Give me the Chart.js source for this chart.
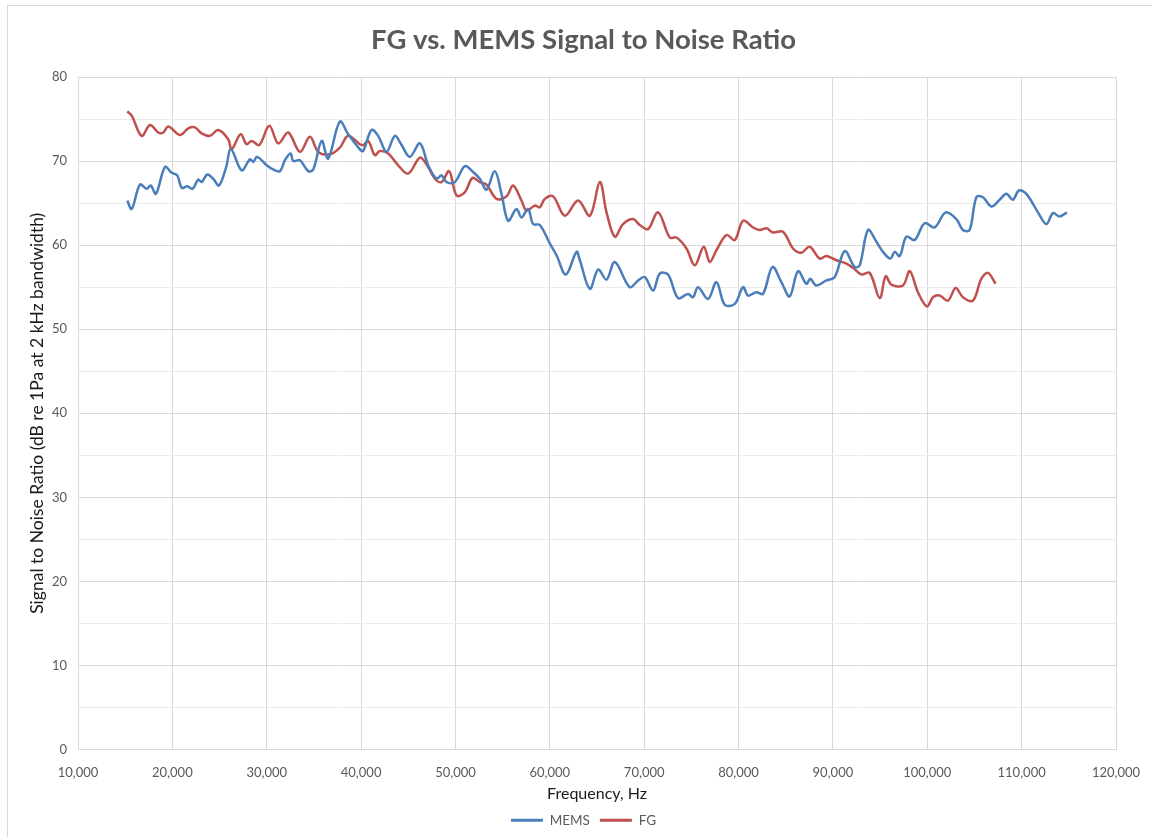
<!DOCTYPE html>
<html>
<head>
<meta charset="utf-8">
<script src="https://cdn.jsdelivr.net/npm/chart.js@4.4.1/dist/chart.umd.min.js"></script>
<style>
  html, body { margin: 0; padding: 0; background: #fff; overflow: hidden; }
  #wrap { position: relative; width: 1152px; height: 837px; }
  #frame { position: absolute; left: 7px; top: 5px; width: 1200px; height: 900px; border: 1px solid #d9d9d9; pointer-events: none; }
</style>
</head>
<body>
<div id="wrap">
  <canvas id="chart" width="1152" height="837"></canvas>
  <div id="frame"></div>
</div>
<script>
// MEMS series: frequency (Hz) and SNR (dB)
const memsFreq = [15220, 15690, 16570, 17280, 17700, 18260, 19220, 19930, 20520, 20990, 21580, 22150, 22740, 23100, 23700, 24330, 24940, 25680, 26210, 27340, 28220, 28570, 28990, 29990, 30690, 31400, 31930, 32530, 32810, 33520, 34400, 34930, 35820, 36510, 37750, 38630, 39870, 40220, 41110, 41810, 42700, 43580, 44290, 45170, 46230, 47110, 48000, 48530, 49060, 49940, 51000, 51870, 52580, 53290, 54170, 54880, 55580, 56470, 57000, 57700, 58230, 58940, 60000, 60710, 61700, 62830, 63180, 64240, 65120, 66010, 66890, 68470, 69350, 70060, 70940, 71650, 72530, 73590, 74650, 75180, 75710, 76770, 77660, 78540, 79600, 80480, 81010, 81900, 82600, 83590, 84540, 85420, 86300, 87190, 87600, 88230, 89310, 90190, 91250, 92310, 92840, 93720, 94610, 95310, 96090, 96550, 97080, 97790, 98660, 99720, 100780, 101950, 103080, 103780, 104490, 105200, 105900, 106790, 107670, 108380, 109080, 109710, 110500, 111730, 112620, 113320, 114030, 114800];
const memsSnr = [65.3, 64.3, 67.2, 66.7, 67.1, 66.1, 69.3, 68.6, 68.3, 66.8, 67.0, 66.7, 67.8, 67.5, 68.4, 67.9, 67.1, 69.2, 71.4, 68.9, 70.2, 69.9, 70.5, 69.5, 69.0, 68.8, 70.1, 70.9, 70.0, 70.1, 68.8, 69.0, 72.4, 70.3, 74.7, 73.2, 71.4, 71.2, 73.7, 73.0, 71.1, 73.0, 71.9, 70.5, 72.1, 69.5, 67.9, 68.3, 67.5, 67.5, 69.4, 68.7, 67.9, 66.6, 68.8, 66.1, 62.9, 64.3, 63.3, 64.3, 62.5, 62.4, 60.2, 58.8, 56.5, 59.2, 58.2, 54.8, 57.1, 55.9, 58.0, 55.0, 55.8, 56.2, 54.6, 56.6, 56.5, 53.7, 54.2, 53.8, 55.0, 53.6, 55.6, 52.9, 53.0, 55.0, 54.0, 54.4, 54.2, 57.4, 55.6, 53.9, 56.9, 55.4, 56.0, 55.2, 55.8, 56.2, 59.3, 57.4, 57.6, 61.8, 60.4, 59.2, 58.4, 59.2, 58.7, 61.0, 60.6, 62.6, 62.1, 63.9, 63.1, 61.8, 61.8, 65.7, 65.7, 64.6, 65.4, 66.1, 65.4, 66.5, 66.1, 63.9, 62.5, 63.8, 63.4, 63.9];

// FG series: frequency (Hz) and SNR (dB)
const fgFreq = [15220, 15690, 16750, 17630, 18510, 19040, 19570, 20810, 21690, 22390, 23100, 23980, 24860, 25920, 26280, 27240, 27870, 28400, 29210, 30270, 31220, 32280, 33520, 34580, 35460, 36700, 37750, 38630, 39870, 40220, 40750, 41460, 41990, 42870, 43930, 44990, 46230, 46940, 47820, 48530, 49330, 50120, 51000, 51810, 52580, 53290, 54350, 55410, 56110, 57000, 57530, 58410, 58940, 59470, 60350, 61590, 63000, 64240, 65300, 66010, 66890, 67760, 68820, 69530, 70410, 71470, 72710, 73420, 74480, 75360, 76310, 76950, 77660, 78720, 79600, 80480, 81540, 82250, 82960, 83650, 84710, 85770, 86660, 87540, 88600, 89310, 90370, 91430, 92130, 93020, 93900, 94960, 95590, 96200, 97420, 98140, 99010, 99970, 100600, 101310, 102190, 103010, 103780, 104840, 105730, 106430, 107240];
const fgSnr = [75.9, 75.4, 73.0, 74.3, 73.4, 73.4, 74.1, 73.1, 73.9, 74.0, 73.3, 73.0, 73.7, 72.6, 71.4, 73.2, 72.0, 72.4, 71.9, 74.2, 72.1, 73.4, 71.1, 72.9, 71.1, 70.8, 71.6, 73.0, 72.0, 71.9, 72.4, 70.7, 71.2, 70.9, 69.5, 68.5, 70.4, 69.6, 67.9, 67.5, 68.8, 65.9, 66.3, 68.0, 67.5, 67.2, 65.5, 65.8, 67.1, 65.3, 64.1, 64.7, 64.5, 65.5, 65.8, 63.5, 65.3, 63.5, 67.5, 63.9, 61.0, 62.5, 63.1, 62.4, 61.9, 63.9, 60.9, 60.9, 59.6, 57.6, 59.8, 58.0, 59.4, 61.2, 60.6, 62.9, 62.1, 61.8, 62.0, 61.5, 61.6, 59.6, 59.1, 59.8, 58.4, 58.7, 58.2, 57.8, 57.3, 56.5, 56.7, 53.7, 56.3, 55.3, 55.2, 56.9, 54.4, 52.7, 53.8, 54.0, 53.4, 54.9, 53.8, 53.4, 56.0, 56.7, 55.4];

const seriesNames = ['MEMS', 'FG'];
const xTicks = [10000, 20000, 30000, 40000, 50000, 60000, 70000, 80000, 90000, 100000, 110000, 120000];
const yTicks = [0, 10, 20, 30, 40, 50, 60, 70, 80];

const FONT = 'Lato, "Open Sans", sans-serif';

function toPoints(xs, ys) {
  return xs.map((x, i) => ({ x: x, y: ys[i] }));
}

new Chart(document.getElementById('chart').getContext('2d'), {
  type: 'line',
  data: {
    datasets: [
      {
        label: seriesNames[0],
        data: toPoints(memsFreq, memsSnr),
        borderColor: '#4a7ebb',
        backgroundColor: '#4a7ebb',
        borderWidth: 2.5,
        pointRadius: 0,
        tension: 0.35,
        fill: false
      },
      {
        label: seriesNames[1],
        data: toPoints(fgFreq, fgSnr),
        borderColor: '#c0504d',
        backgroundColor: '#c0504d',
        borderWidth: 2.5,
        pointRadius: 0,
        tension: 0.35,
        fill: false
      }
    ]
  },
  options: {
    responsive: false,
    animation: false,
    layout: { padding: { left: 15, right: 0, top: 0, bottom: 0 } },
    plugins: {
      title: {
        display: true,
        text: 'FG vs. MEMS Signal to Noise Ratio',
        color: '#595959',
        font: { family: FONT, size: 27.5, weight: 'bold' },
        padding: { top: 23.5, bottom: 20.5 }
      },
      legend: {
        position: 'bottom',
        labels: {
          color: '#595959',
          font: { family: FONT, size: 13.5 },
          boxWidth: 32,
          boxHeight: 3,
          padding: 10,
          generateLabels: (chart) => Chart.defaults.plugins.legend.labels.generateLabels(chart).map(l => {
            l.lineWidth = 0;
            l.fillStyle = l.strokeStyle;
            return l;
          })
        }
      },
      tooltip: { enabled: false }
    },
    scales: {
      x: {
        type: 'linear',
        min: xTicks[0],
        max: xTicks[xTicks.length - 1],
        afterBuildTicks: (s) => { s.ticks = xTicks.map(v => ({ value: v })); },
        afterFit: (s) => { s.height = 54; s.paddingRight = 36; s.paddingLeft = 0; },
        ticks: {
          color: '#595959',
          font: { family: FONT, size: 13 },
          padding: 16,
          maxRotation: 0,
          callback: (v) => v.toLocaleString('en-US')
        },
        grid: { color: '#d9d9d9', drawTicks: false },
        border: { display: true, color: '#d9d9d9' },
        title: {
          display: true,
          text: 'Frequency, Hz',
          color: '#1a1a1a',
          font: { family: FONT, size: 16 },
          padding: { top: 3, bottom: 0 }
        }
      },
      y: {
        min: 0,
        max: 80,
        afterFit: (s) => { s.width = 63; },
        afterBuildTicks: (s) => {
          const t = [];
          for (let i = 0; i < yTicks.length; i++) {
            t.push({ value: yTicks[i] });
            if (i < yTicks.length - 1) t.push({ value: (yTicks[i] + yTicks[i + 1]) / 2, minor: true });
          }
          s.ticks = t;
        },
        ticks: {
          color: '#595959',
          font: { family: FONT, size: 13 },
          padding: 11,
          callback: (v) => (yTicks.includes(v) ? v : '')
        },
        grid: {
          drawTicks: false,
          color: (ctx) => (ctx.tick && yTicks.includes(ctx.tick.value) ? '#d9d9d9' : '#ececec')
        },
        border: { display: false },
        title: {
          display: true,
          text: 'Signal to Noise Ratio (dB re 1Pa at 2 kHz bandwidth)',
          color: '#1a1a1a',
          font: { family: FONT, size: 17.5 },
          padding: { top: 12, bottom: 0 }
        }
      }
    }
  }
});
</script>
</body>
</html>
